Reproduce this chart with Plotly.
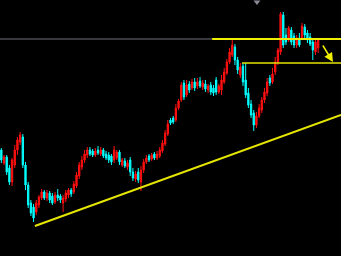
import plotly.graph_objects as go

# candle index
idx = list(range(119))

open_ = [106,93,99,88,74,91,106,114,119,91,71,53,49,44,51,58,64,58,63,60,
         54,61,60,53,57,61,66,64,70,80,89,96,101,106,105,101,106,102,106,102,
         101,100,96,98,104,91,95,89,96,84,77,84,74,86,94,100,97,102,98,100,
         105,112,122,136,138,136,148,156,173,161,172,168,174,170,175,169,172,166,171,168,
         176,164,166,174,183,194,201,209,196,181,190,176,163,152,143,131,140,146,156,163,
         178,174,184,194,204,241,221,216,226,220,211,218,218,229,223,219,214,204,208]
close = [96,99,84,74,96,106,116,121,91,71,51,43,38,53,59,64,58,63,56,53,
         61,58,56,58,63,66,62,72,81,91,96,102,106,102,101,105,103,106,100,98,
         96,94,106,104,94,96,90,93,84,78,82,76,86,94,98,96,101,98,102,106,
         113,123,132,133,134,148,155,171,159,171,166,174,168,174,170,173,167,170,164,163,
         164,170,176,184,194,204,211,196,186,189,174,161,151,141,131,140,148,156,164,174,
         173,182,194,206,242,211,214,228,214,211,218,211,230,221,216,212,206,214,216]
high = [108,101,101,91,98,111,119,124,122,94,74,56,52,56,61,67,66,66,65,63,
        64,67,62,61,66,68,68,75,84,94,100,106,109,109,107,108,110,109,108,105,
        104,102,110,106,106,98,98,96,99,88,85,88,90,97,101,102,103,104,105,109,
        116,126,136,138,140,152,157,174,176,176,175,177,178,178,179,176,176,172,174,171,
        179,172,181,188,197,208,217,212,199,193,193,193,168,156,146,144,152,159,168,178,
        181,188,199,208,244,244,228,230,229,223,221,223,233,232,226,223,218,216,218]
low = [93,91,81,71,70,88,101,111,88,66,48,40,34,41,48,56,56,55,53,51,
       52,55,53,44,54,58,59,62,68,77,86,93,98,100,99,99,101,100,98,96,
       93,91,93,96,91,89,88,86,80,75,74,73,65,83,92,94,95,96,96,98,
       103,110,120,131,132,134,146,154,156,159,163,166,165,167,168,166,164,163,161,160,
       161,162,161,172,181,192,199,191,182,178,170,158,148,138,125,128,138,143,153,160,
       170,172,181,191,201,208,211,214,211,208,208,209,216,218,213,210,196,201,203]

# horizontal levels and trend line
resistance_level = 217
support_level = 193
gray_x = [-0.5, 78.5]
res_x = [78.5, 126.5]
sup_x = [89.6, 126.5]
trend_x = [12.5, 126.5]
trend_y = [30, 141]
arrow_x = [119.4, 123.5]
arrow_y = [212, 194]
marker_x = [95.2]
marker_y = [254]

fig = go.Figure()
fig.add_trace(go.Candlestick(
    x=idx, open=open_, high=high, low=low, close=close,
    increasing=dict(line=dict(color="#ff1010", width=1), fillcolor="#ff1010"),
    decreasing=dict(line=dict(color="#00ffff", width=1), fillcolor="#00ffff"),
    whiskerwidth=0, showlegend=False, hoverinfo="skip"))

fig.add_trace(go.Scatter(x=gray_x, y=[resistance_level]*2, mode="lines",
                         line=dict(color="#70707c", width=1), showlegend=False))
fig.add_trace(go.Scatter(x=res_x, y=[resistance_level]*2, mode="lines",
                         line=dict(color="#f0f000", width=2), showlegend=False))
fig.add_trace(go.Scatter(x=sup_x, y=[support_level]*2, mode="lines",
                         line=dict(color="#e6e600", width=1.5), showlegend=False))
fig.add_trace(go.Scatter(x=trend_x, y=trend_y, mode="lines",
                         line=dict(color="#e6e600", width=2), showlegend=False))
fig.add_trace(go.Scatter(x=marker_x, y=marker_y, mode="markers",
                         marker=dict(symbol="triangle-down", size=6, color="#8a8a96"),
                         cliponaxis=False, showlegend=False))

fig.add_annotation(x=arrow_x[1], y=arrow_y[1], ax=arrow_x[0], ay=arrow_y[0],
                   xref="x", yref="y", axref="x", ayref="y", text="",
                   showarrow=True, arrowhead=2, arrowsize=1.2, arrowwidth=1.5,
                   arrowcolor="#f0f000")

fig.update_layout(
    width=341, height=256, margin=dict(l=0, r=0, t=0, b=0),
    paper_bgcolor="black", plot_bgcolor="black",
    xaxis=dict(range=[-0.5, 126.5], visible=False, rangeslider=dict(visible=False)),
    yaxis=dict(range=[0, 256], visible=False),
    showlegend=False)

fig.write_html("out.html", config={"displayModeBar": False})
